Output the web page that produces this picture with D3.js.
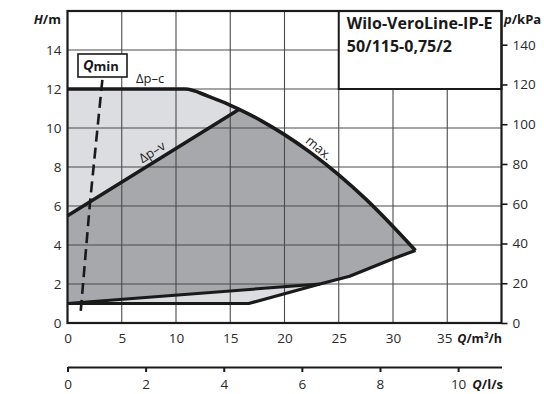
<!DOCTYPE html>
<html><head><meta charset="utf-8">
<script src="https://cdn.jsdelivr.net/npm/d3@7"></script>
<style>body{margin:0;background:#fff}svg{display:block}</style>
</head><body>
<script>
// ---- data ----
const qTicks = [0, 5, 10, 15, 20, 25, 30, 35];
const hTicks = [0, 2, 4, 6, 8, 10, 12, 14];
const pTicks = [0, 20, 40, 60, 80, 100, 120, 140];
const lsTicks = [0, 2, 4, 6, 8, 10];
const gridQ = [5, 10, 15, 20, 25, 30, 35];
const gridH = [2, 4, 6, 8, 10, 12, 14];

// Δp-c plateau then max curve (Q in m³/h, H in m)
const dpcQ = [0, 10.85];
const dpcH = [12, 12];
const maxQ = [13, 15.83, 18, 20, 22.5, 25, 27.5, 30, 32.07];
const maxH = [11.62, 10.96, 10.33, 9.66, 8.7, 7.6, 6.35, 4.95, 3.72];
// lower (min) boundary
const minQ = [0, 16.7, 23.27, 26, 28, 30, 32.07];
const minH = [1.0, 1.0, 2.0, 2.4, 2.85, 3.3, 3.72];
// Δp-v upper line and lower line
const dpvQ = [0, 15.83];
const dpvH = [5.5, 10.96];
const dpvLowQ = [0, 23.27];
const dpvLowH = [1.0, 2.0];
// Qmin dashed line
const qminQ = [1.22, 2.07, 3.24];
const qminH = [0.62, 6.15, 12.62];

const title1 = "Wilo-VeroLine-IP-E";
const title2 = "50/115-0,75/2";

// ---- setup ----
const W = 544, H = 394;
const FONT = "'Open Sans', sans-serif";
const INK = "#1a1a1a";
const svg = d3.select("body").append("svg").attr("width", W).attr("height", H)
  .style("font-family", FONT);

const x = d3.scaleLinear().domain([0, 40]).range([67.5, 501.5]);
const y = d3.scaleLinear().domain([0, 16]).range([323, 11]);
const yP = d3.scaleLinear().domain([0, 16 * 9.81]).range([323, 11]);
const xL = d3.scaleLinear().domain([0, 40 / 3.6]).range([67.5, 501.5]);

const zip = (a, b) => a.map((v, i) => [v, b[i]]);
const upperPts = zip(dpcQ, dpcH).concat(zip(maxQ, maxH));
const lowerPts = zip(minQ, minH);
const lineC = d3.line().x(d => x(d[0])).y(d => y(d[1])).curve(d3.curveMonotoneX);
const lineL = d3.line().x(d => x(d[0])).y(d => y(d[1]));

const regionPath = lineC(upperPts) + lineL(lowerPts.slice().reverse()).replace(/^M/, "L") + "Z";

// clip for Δp-v region
const s1 = (dpvH[1] - dpvH[0]) / (dpvQ[1] - dpvQ[0]);
const s2 = (dpvLowH[1] - dpvLowH[0]) / (dpvLowQ[1] - dpvLowQ[0]);
const clipPts = [[0, dpvH[0]], [40, dpvH[0] + s1 * 40], [40, dpvLowH[0] + s2 * 40], [0, dpvLowH[0]]];
svg.append("defs").append("clipPath").attr("id", "dpvclip")
  .append("path").attr("d", lineL(clipPts) + "Z");

// fills
svg.append("path").attr("d", regionPath).attr("fill", "#dcdde0");
svg.append("path").attr("d", regionPath).attr("fill", "#a7a8ac").attr("clip-path", "url(#dpvclip)");

// grid
const grid = svg.append("g").attr("stroke", "#4a4a4a").attr("stroke-width", 1.1);
grid.selectAll("line.v").data(gridQ).enter().append("line")
  .attr("x1", d => x(d)).attr("x2", d => x(d)).attr("y1", y(0)).attr("y2", y(16));
grid.selectAll("line.h").data(gridH).enter().append("line")
  .attr("x1", x(0)).attr("x2", x(40)).attr("y1", d => y(d)).attr("y2", d => y(d));

// title box
svg.append("rect").attr("x", x(25)).attr("y", y(16)).attr("width", x(40) - x(25)).attr("height", y(12) - y(16))
  .attr("fill", "#fff").attr("stroke", INK).attr("stroke-width", 2);
svg.append("text").attr("x", x(25) + 8).attr("y", 28.5).attr("font-size", 16).attr("font-weight", 700)
  .attr("fill", INK).text(title1);
svg.append("text").attr("x", x(25) + 8).attr("y", 51.5).attr("font-size", 16).attr("font-weight", 700)
  .attr("fill", INK).text(title2);

// frame
svg.append("rect").attr("x", x(0)).attr("y", y(16)).attr("width", x(40) - x(0)).attr("height", y(0) - y(16))
  .attr("fill", "none").attr("stroke", INK).attr("stroke-width", 2.2);

// curves
const curves = svg.append("g").attr("fill", "none").attr("stroke", INK).attr("stroke-linejoin", "round");
curves.append("path").attr("d", lineL(zip(dpvLowQ, dpvLowH))).attr("stroke-width", 3);
curves.append("path").attr("d", lineL(lowerPts)).attr("stroke-width", 3.2);
curves.append("path").attr("d", lineL(zip(dpvQ, dpvH))).attr("stroke-width", 3.4);
curves.append("path").attr("d", lineC(upperPts)).attr("stroke-width", 3.6);

// Qmin dashed
svg.append("path").attr("d", lineL(zip(qminQ, qminH))).attr("fill", "none").attr("stroke", INK)
  .attr("stroke-width", 2.6).attr("stroke-dasharray", "11,6");
svg.append("rect").attr("x", 78).attr("y", 54).attr("width", 49).attr("height", 23)
  .attr("fill", "#fff").attr("stroke", INK).attr("stroke-width", 1.6);
const qm = svg.append("text").attr("x", 83).attr("y", 69.5).attr("font-weight", 700).attr("fill", INK);
qm.append("tspan").attr("font-style", "italic").attr("font-size", 14.5).text("Q");
qm.append("tspan").attr("font-size", 13).attr("dy", 1.5).text("min");

// curve labels
svg.append("text").attr("x", 136).attr("y", 83).attr("font-size", 13).attr("fill", "#222").text("Δp–c");
svg.append("text").attr("transform", "translate(152,152) rotate(-32.5)").attr("text-anchor", "middle")
  .attr("dy", "0.35em").attr("font-size", 13).attr("fill", "#222").text("Δp–v");
svg.append("text").attr("transform", "translate(319,148) rotate(40)").attr("text-anchor", "middle")
  .attr("dy", "0.35em").attr("font-size", 13).attr("fill", "#222").text("max.");

// axes
function styleAxis(g) {
  g.selectAll("text").attr("font-family", FONT).attr("font-size", 13.5).attr("fill", "#2a2a2a");
  g.selectAll("line").attr("stroke", INK).attr("stroke-width", 1.6);
  g.select(".domain").remove();
}
svg.append("g").attr("transform", `translate(${x(0)},0)`)
  .call(d3.axisLeft(y).tickValues(hTicks).tickSize(0).tickPadding(6)).call(styleAxis);
const bAxis = svg.append("g").attr("transform", `translate(0,${y(0)})`)
  .call(d3.axisBottom(x).tickValues(qTicks).tickSize(0).tickPadding(10)).call(styleAxis);
bAxis.selectAll("text").filter(d => d === 35).attr("dx", -3);
svg.append("g").attr("transform", `translate(${x(40)},0)`)
  .call(d3.axisRight(yP).tickValues(pTicks).tickSize(6).tickPadding(5)).call(styleAxis);
const lsAxis = svg.append("g").attr("transform", "translate(0,367)")
  .call(d3.axisBottom(xL).tickValues(lsTicks).tickSize(5).tickPadding(7).tickSizeOuter(0));
lsAxis.selectAll("text").attr("font-family", FONT).attr("font-size", 13.5).attr("fill", "#2a2a2a");
lsAxis.selectAll("line").attr("stroke", INK).attr("stroke-width", 2);
lsAxis.select(".domain").attr("stroke", INK).attr("stroke-width", 2);

// axis titles
function axTitle(xp, yp, anchor, italic, rest, fs) {
  const t = svg.append("text").attr("x", xp).attr("y", yp).attr("text-anchor", anchor)
    .attr("font-size", fs).attr("font-weight", 700).attr("fill", INK);
  t.append("tspan").attr("font-style", "italic").text(italic);
  t.append("tspan").text(rest);
}
axTitle(61, 24, "end", "H", "/m", 13);
axTitle(504, 24, "start", "p", "/kPa", 13);
axTitle(502, 343, "end", "Q", "/m³/h", 12.5);
axTitle(503, 389, "end", "Q", "/l/s", 13);
</script>
</body></html>
